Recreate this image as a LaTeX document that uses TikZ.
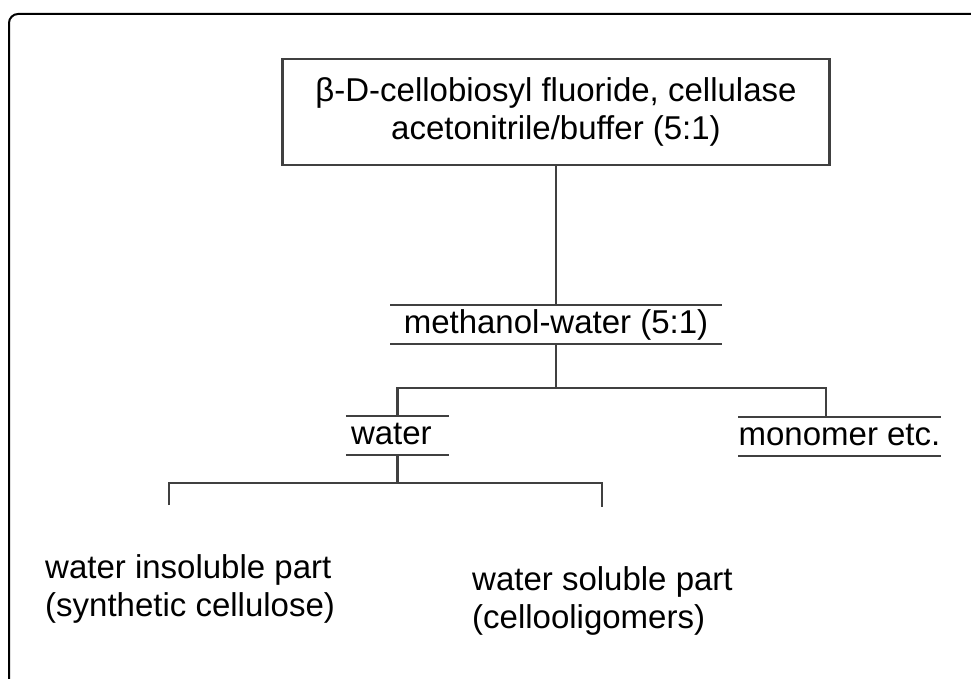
\documentclass[tikz,border=0pt]{standalone}
\usepackage{fontspec}
\setmainfont{Liberation Sans}
\begin{document}
\begin{tikzpicture}[x=1pt,y=-1pt,
	every node/.style={font=\fontsize{33}{38}\selectfont, inner sep=0pt},
	box/.style={draw=black!75, line width=2.5pt, align=center, minimum width=547pt, minimum height=106pt},
	level/.style={minimum height=38pt, text height=24pt, text depth=7pt},
	link/.style={draw=black!75, line width=2.5pt},
	rule/.style={draw=black!75, line width=2pt}]
			\useasboundingbox (0,0) rectangle (971,679);
			\draw[line width=2pt, rounded corners=9pt] (9,679) -- (9,14) -- (971,14);
			
			\node[box] (start) at (556,112) {β-D-cellobiosyl fluoride, cellulase\\acetonitrile/buffer (5:1)};
			\node[level, minimum width=331pt] (meth) at (556,324.5) {methanol-water (5:1)};
			\node[level, text width=93pt, inner xsep=5pt, align=left] (wat) at (397.5,435.5) {water};
			\node[level, minimum width=201pt] (mono) at (839.5,436.5) {monomer etc.};
			\node[anchor=north west, align=left] (insol) at (45,554) {water insoluble part\\(synthetic cellulose)};
			\node[anchor=north west, align=left] (sol) at (472,566) {water soluble part\\(cellooligomers)};
			
			\foreach \n in {meth,wat,mono}
			\draw[rule] (\n.north west) -- (\n.north east) (\n.south west) -- (\n.south east);
			
			\coordinate (j1) at (556,388);
			\coordinate (j2) at (397.5,483);
			\coordinate (d1) at (169,505);
			\coordinate (d2) at (602,507);
			
			\draw[link] (start) -- (meth);
			\draw[link] (meth) -- (j1);
			\draw[link] (wat.north) |- (j1) -| ([xshift=-13.5pt]mono.north);
			\draw[link] (wat) -- (j2);
			\draw[link] (d1) |- (j2) -| (d2);
			\end{tikzpicture}
\end{document}
